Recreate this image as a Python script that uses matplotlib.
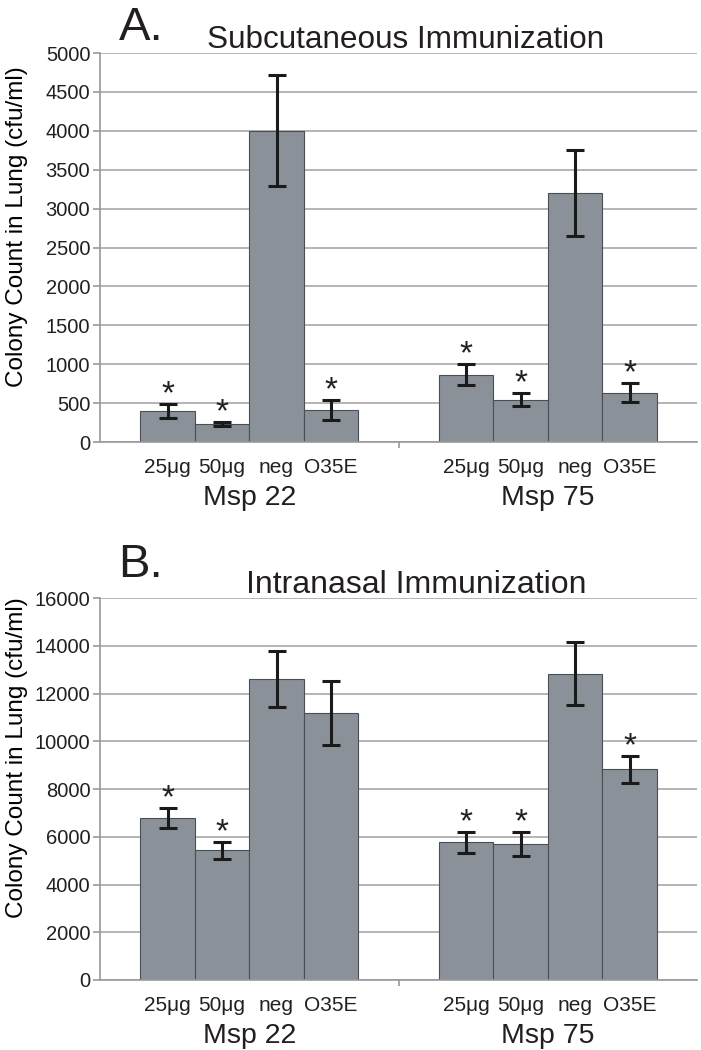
import matplotlib
matplotlib.use('Agg')
import matplotlib.pyplot as plt
import matplotlib.transforms as mtransforms

plt.rcParams['font.family'] = ['Liberation Sans', 'DejaVu Sans']
plt.rcParams['text.color'] = '#231f20'

# data
groups = ['Msp 22', 'Msp 75']
doses = ['25μg', '50μg', 'neg', 'O35E']

subq_mean = [[405, 230, 4000, 410], [865, 545, 3205, 635]]
subq_err = [[90, 30, 715, 125], [135, 80, 555, 125]]
subq_sig = [[1, 1, 0, 1], [1, 1, 0, 1]]

intra_mean = [[6780, 5440, 12600, 11180], [5770, 5690, 12840, 8830]]
intra_err = [[410, 360, 1170, 1340], [430, 510, 1320, 560]]
intra_sig = [[1, 1, 0, 0], [1, 1, 0, 1]]

bar_col = '#8a9198'
grid_col = '#a8a8a8'
txt_col = '#231f20'
w = 0.1826

fig = plt.figure(figsize=(7.01, 10.5), dpi=100)


def panel(rect, means, errs, sig, ymax, ystep, letter, letter_y,
          title, title_x, title_size, ylab_y):
    ax = fig.add_axes(rect)
    ax.set_xlim(-0.5, 1.5)
    ax.set_ylim(0, ymax)
    ax.set_yticks(range(0, ymax + 1, ystep))
    ax.yaxis.grid(True, color=grid_col, linewidth=1.2)
    ax.set_axisbelow(True)
    for s in ['top', 'right']:
        ax.spines[s].set_visible(False)
    for s in ['left', 'bottom']:
        ax.spines[s].set_color('#999999')
        ax.spines[s].set_linewidth(1.2)
    ax.tick_params(axis='y', colors='#999999', labelcolor=txt_col,
                   labelsize=14.5, length=5, width=1.2, pad=2)
    ax.set_xticks([0.5])
    ax.set_xticklabels([])
    ax.tick_params(axis='x', colors='#999999', length=4, width=1.2)

    offs = [-1.5, -0.5, 0.5, 1.5]
    trans = mtransforms.blended_transform_factory(ax.transData, ax.transAxes)
    for g in range(len(groups)):
        xs = [g + o * w for o in offs]
        ax.bar(xs, means[g], width=w, color=bar_col, edgecolor='#4a4f55',
               linewidth=0.8, zorder=2)
        ax.errorbar(xs, means[g], yerr=errs[g], fmt='none', ecolor='#1a1a1a',
                    elinewidth=2.2, capsize=6.5, capthick=2.2, zorder=3)
        for i in range(len(doses)):
            if sig[g][i]:
                ax.annotate('*', (xs[i], means[g][i] + errs[g][i]),
                            xytext=(0, 0.5), textcoords='offset points',
                            ha='center', va='baseline', fontsize=24,
                            color=txt_col)
            ax.annotate(doses[i], (xs[i], 0), xycoords=trans,
                        xytext=(0, -18.5), textcoords='offset points',
                        ha='center', va='center', fontsize=15)
        ax.annotate(groups[g], (g, 0), xycoords=trans,
                    xytext=(0, -40), textcoords='offset points',
                    ha='center', va='center', fontsize=20.5)

    ax.set_ylabel('Colony Count in Lung (cfu/ml)', fontsize=17.5)
    ax.yaxis.set_label_coords(-0.12, ylab_y)
    ax.text(title_x, 1.014, title, transform=ax.transAxes,
            fontsize=title_size, ha='center', va='baseline')
    ax.text(0.031, letter_y, letter, transform=ax.transAxes, fontsize=34,
            ha='left', va='baseline')
    return ax


panel([0.1427, 0.579, 0.8516, 0.3705], subq_mean, subq_err, subq_sig,
      5000, 500, 'A.', 1.033, 'Subcutaneous Immunization', 0.5126, 22.7,
      0.553)
panel([0.1427, 0.0667, 0.8516, 0.3635], intra_mean, intra_err, intra_sig,
      16000, 2000, 'B.', 1.055, 'Intranasal Immunization', 0.529, 23,
      0.582)

plt.savefig('out.png', dpi=100)
